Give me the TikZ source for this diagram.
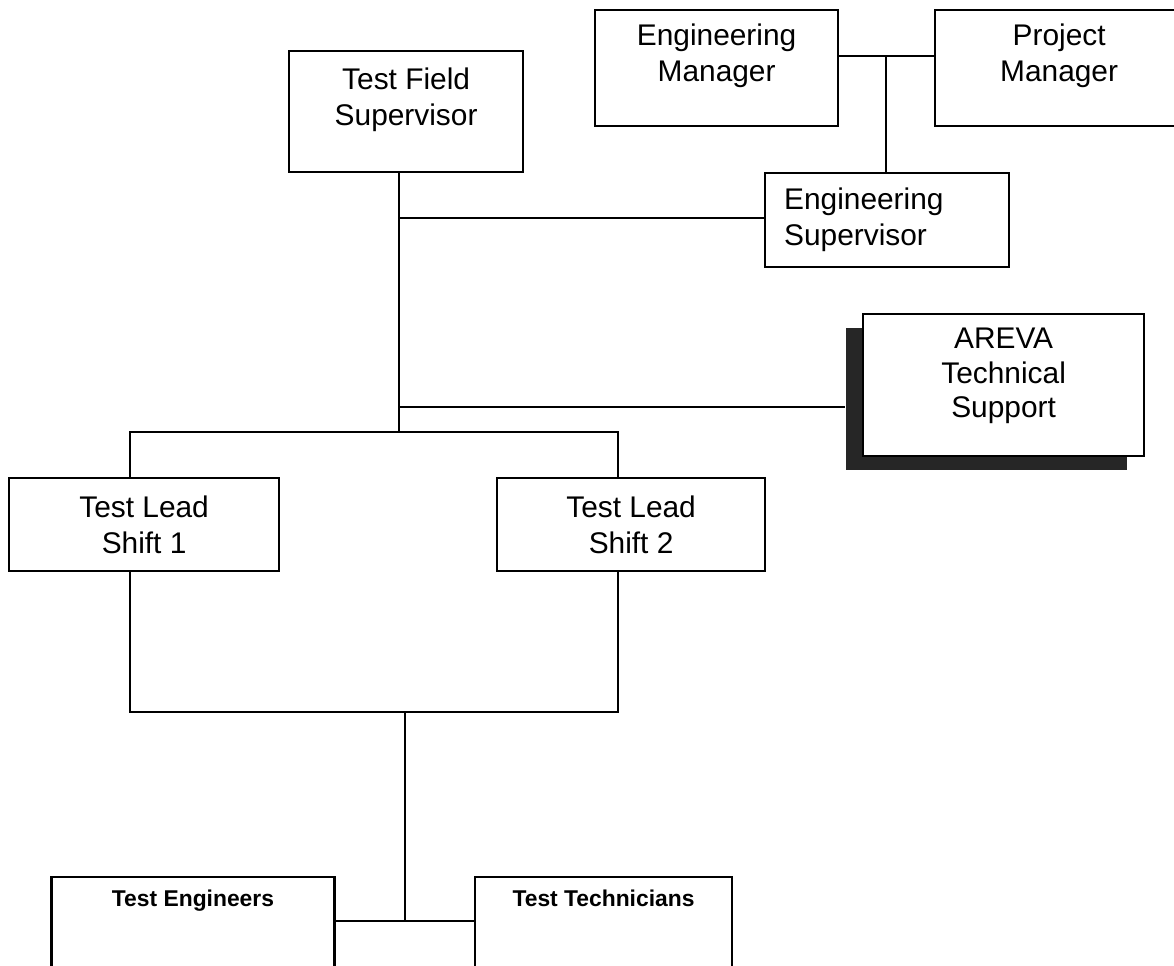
\documentclass[tikz,border=0pt]{standalone}
\usepackage{fontspec}
\setmainfont{Liberation Sans}
\usepackage{tikz}
\usetikzlibrary{shadows,calc}

\begin{document}
\begin{tikzpicture}[x=0.02cm,y=-0.02cm,
    box/.style={draw,line width=1.3pt,fill=white,align=center,inner sep=2pt,
      font=\fontsize{17}{20.5}\selectfont,anchor=north west},
    lift/.style={text depth=#1},
    staff/.style={draw,line width=1.3pt,fill=white,anchor=north,inner xsep=2pt,
      inner ysep=0.26cm,text depth=3cm,font=\fontsize{13}{15}\selectfont\bfseries},
    link/.style={line width=1.3pt}]
  \useasboundingbox (0,0) rectangle (1174,966);
  %Boxes
  \node[box,minimum width=4.86cm,minimum height=2.32cm,lift=0.6cm] (em) at (594,9) {Engineering\\Manager};
  \node[box,minimum width=4.96cm,minimum height=2.32cm,lift=0.6cm] (pm) at (934,9) {Project\\Manager};
  \node[box,minimum width=4.88cm,minimum height=1.88cm,text width=4.12cm,align=left,inner xsep=0pt] (es) at (764,172) {Engineering\\Supervisor};
  \node[box,minimum width=4.68cm,minimum height=2.42cm,lift=0.59cm] (tfs) at (288,50) {Test Field\\Supervisor};
  \node[box,minimum width=5.62cm,minimum height=2.84cm,lift=0.49cm,font=\fontsize{17}{19.5}\selectfont,
    drop shadow={shadow xshift=-0.34cm,shadow yshift=-0.27cm,fill=black!85,opacity=1}] (areva) at (862,313) {AREVA\\Technical\\Support};
  \node[box,minimum width=5.4cm,minimum height=1.86cm] (tl1) at (8,477) {Test Lead\\Shift 1};
  \node[box,minimum width=5.36cm,minimum height=1.86cm] (tl2) at (496,477) {Test Lead\\Shift 2};
  \node[staff,minimum width=5.66cm] (te) at (193,876) {Test Engineers};
  \node[staff,minimum width=5.14cm] (tt) at (603.5,876) {Test Technicians};
  %Junctions
  \coordinate (j0) at (886,56);
  \coordinate (j1) at (399,218);
  \coordinate (j2) at (399,407);
  \coordinate (j3) at (399,432);
  \coordinate (b1) at (130,432);
  \coordinate (b2) at (618,432);
  \coordinate (c1) at (130,712);
  \coordinate (c2) at (618,712);
  \coordinate (c0) at (405,712);
  \coordinate (d0) at (405,921);
  \coordinate (aedge) at ([xshift=-0.34cm]areva.west);
  %Lines
  \draw[link] (em.east |- j0) -- (pm.west |- j0);
  \draw[link] (j0) -- (j0 |- es.north);
  \draw[link] (tfs.south -| j1) -- (j3);
  \draw[link] (j1) -- (es.west |- j1);
  \draw[link] (j2) -- (aedge |- j2);
  \draw[link] (b1 |- tl1.north) -- (b1) -- (b2) -- (b2 |- tl2.north);
  \draw[link] (b1 |- tl1.south) -- (c1) -- (c2) -- (b2 |- tl2.south);
  \draw[link] (c0) -- (d0);
  \draw[link] (te.east |- d0) -- (tt.west |- d0);
\end{tikzpicture}
\end{document}
